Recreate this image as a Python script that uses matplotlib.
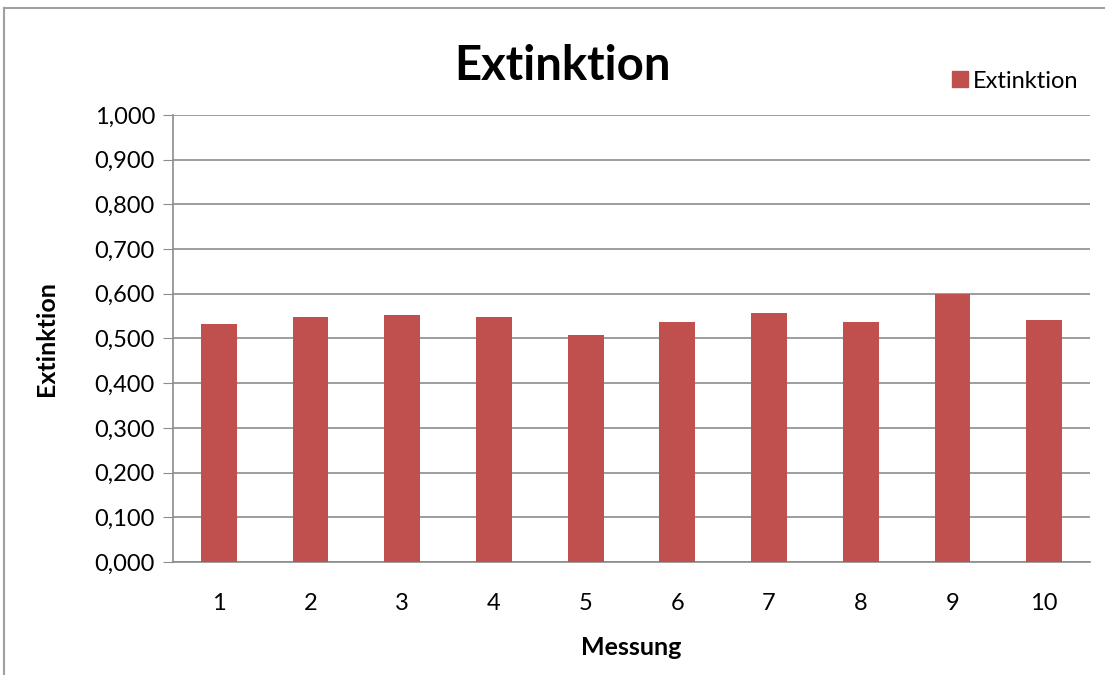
import numpy as np
import matplotlib
matplotlib.use("Agg")
import matplotlib.pyplot as plt
from matplotlib.ticker import FuncFormatter, MultipleLocator
from matplotlib.lines import Line2D

# data
messung = ["1", "2", "3", "4", "5", "6", "7", "8", "9", "10"]
extinktion = [0.533, 0.547, 0.553, 0.547, 0.507, 0.537, 0.557, 0.537, 0.600, 0.542]

bar_color = "#C0504D"
grid_color = "#8c8c8c"
plt.rcParams["font.family"] = ["Lato", "DejaVu Sans"]

W, H = 1105, 675
fig = plt.figure(figsize=(W / 100, H / 100), dpi=100)
ax = fig.add_axes([173 / W, 1 - 562 / H, (1090 - 173) / W, (562 - 115) / H])

x = np.arange(len(messung))
ax.bar(x, extinktion, width=0.39, color=bar_color, label="Extinktion", zorder=3)

ax.set_xlim(-0.5, len(messung) - 0.5)
ax.set_ylim(0, 1.0)
ax.yaxis.set_major_locator(MultipleLocator(0.1))
ax.yaxis.set_major_formatter(FuncFormatter(lambda v, p: f"{v:.3f}".replace(".", ",")))
ax.set_xticks(x)
ax.set_xticklabels(messung)
ax.grid(axis="y", color=grid_color, linewidth=1.2, zorder=0)

for s in ["top", "right"]:
    ax.spines[s].set_visible(False)
ax.spines["left"].set_color(grid_color)
ax.spines["bottom"].set_color(grid_color)
ax.spines["left"].set_linewidth(1.2)
ax.spines["bottom"].set_linewidth(1.2)

ax.tick_params(axis="y", length=7, color=grid_color, labelsize=17, pad=6)
ax.tick_params(axis="x", length=0, labelsize=17, pad=22)

ax.set_xlabel("Messung", fontsize=18, fontweight="bold", labelpad=16)
ax.set_ylabel("Extinktion", fontsize=18, fontweight="bold", labelpad=26)

fig.text(562 / W, 1 - 66 / H, "Extinktion", fontsize=34, fontweight="bold",
         ha="center", va="center")

handle = Line2D([], [], marker="s", linestyle="none", markersize=11,
                markerfacecolor=bar_color, markeredgecolor=bar_color)
fig.legend([handle], ["Extinktion"], loc="center left",
           bbox_to_anchor=(936 / W, 1 - 81 / H), frameon=False,
           fontsize=17, handletextpad=0.05, handlelength=1.0, borderpad=0)

# outer chart frame
fig.add_artist(Line2D([4 / W, 4 / W], [0, 1 - 8 / H], transform=fig.transFigure,
                      color="#a0a0a0", linewidth=1.5))
fig.add_artist(Line2D([4 / W, 1], [1 - 8 / H, 1 - 8 / H], transform=fig.transFigure,
                      color="#a0a0a0", linewidth=1.5))

fig.savefig("out.png", dpi=100)
